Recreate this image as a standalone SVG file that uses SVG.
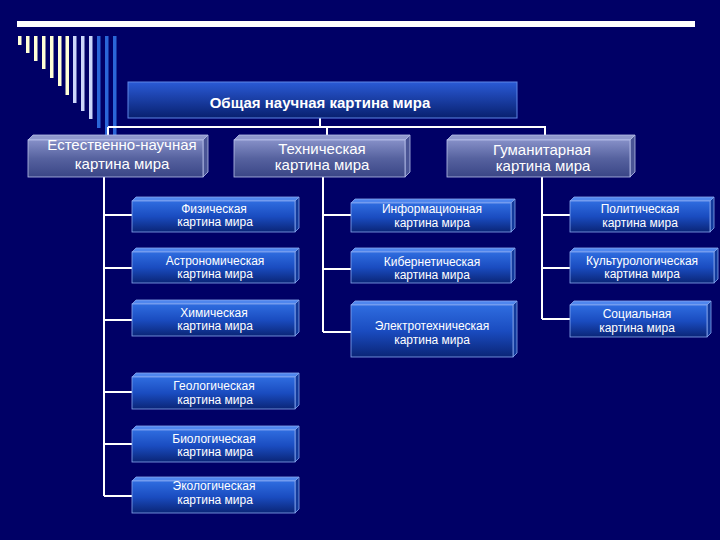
<svg xmlns="http://www.w3.org/2000/svg" width="720" height="540" viewBox="0 0 720 540">
<defs>
<linearGradient id="gLeaf" x1="0" y1="0" x2="0" y2="1">
<stop offset="0" stop-color="#2f6de0"/>
<stop offset="0.5" stop-color="#1a4cc0"/>
<stop offset="1" stop-color="#0a2577"/>
</linearGradient>
<linearGradient id="gMid" x1="0" y1="0" x2="0" y2="1">
<stop offset="0" stop-color="#8690c8"/>
<stop offset="0.5" stop-color="#56629f"/>
<stop offset="1" stop-color="#3a4586"/>
</linearGradient>
<linearGradient id="gRoot" x1="0" y1="0" x2="0" y2="1">
<stop offset="0" stop-color="#2a5ad6"/>
<stop offset="1" stop-color="#08206f"/>
</linearGradient>
<style>
.bg{fill:#000066}
.stripeY{fill:#ffffd6}
.stripeL{fill:#ccd6fa}
.stripeB{fill:#2a66d8}
.front{fill:url(#gLeaf);stroke:#88a8f0;stroke-width:0.8}
.top{fill:#4f86ee;stroke:#88a8f0;stroke-width:0.8}
.side{fill:#123a9c;stroke:#88a8f0;stroke-width:0.8}
.mfront{fill:url(#gMid);stroke:#b8c0ea;stroke-width:0.8}
.mtop{fill:#8f98cc;stroke:#b8c0ea;stroke-width:0.8}
.mside{fill:#4a5596;stroke:#b8c0ea;stroke-width:0.8}
.rfront{fill:url(#gRoot);stroke:#5f86e6;stroke-width:1}
.conn{stroke:#ffffff;stroke-width:2;fill:none}
text{font-family:"Liberation Sans",Arial,sans-serif;fill:#ffffff;text-anchor:middle}
.t1{font-size:15px;font-weight:bold}
.t2{font-size:15px}
.t3{font-size:12px}
</style>
</defs>
<rect class="bg" x="0" y="0" width="720" height="540"/>
<g id="decor">
<rect x="17" y="21" width="678" height="6" fill="#ffffff"/>
<rect class="stripeY" x="18" y="36" width="3.5" height="9"/>
<rect class="stripeY" x="26" y="36" width="3.5" height="17"/>
<rect class="stripeY" x="34" y="36" width="3.5" height="25"/>
<rect class="stripeY" x="42" y="36" width="3.5" height="33"/>
<rect class="stripeY" x="50" y="36" width="3.5" height="42"/>
<rect class="stripeY" x="58" y="36" width="3.5" height="50"/>
<rect class="stripeY" x="65.5" y="36" width="3.5" height="59"/>
<rect class="stripeL" x="73" y="36" width="3.5" height="67"/>
<rect class="stripeL" x="81" y="36" width="3.5" height="75"/>
<rect class="stripeL" x="89" y="36" width="3.5" height="83"/>
<rect class="stripeB" x="97" y="36" width="3.5" height="92"/>
<rect class="stripeB" x="105" y="36" width="3.5" height="101"/>
<rect class="stripeB" x="113" y="36" width="3.5" height="107"/>
</g>
<g id="connectors">
<path class="conn" d="M320 118 V127 M108 127 H546 M108 127 V137 M327 127 V136 M545 127 V136"/>
<path class="conn" d="M104 177 V496 M104 215 H132 M104 268 H132 M104 320 H132 M104 392 H132 M104 444 H132 M104 496 H132"/>
<path class="conn" d="M323 177 V332 M323 215 H351 M323 269 H351 M323 332 H351"/>
<path class="conn" d="M542 177 V319 M542 215 H570 M542 268 H570 M542 319 H570"/>
</g>
<g id="root">
<rect class="rfront" x="128" y="82" width="389" height="36"/>
<text class="t1" x="320" y="108">Общая научная картина мира</text>
</g>
<g id="natural">
<polygon class="mtop" points="28,140 33,135 208,135 203,140"/>
<polygon class="mside" points="203,140 208,135 208,172 203,177"/>
<rect class="mfront" x="28" y="140" width="175" height="37"/>
<text class="t2" x="122" y="150">Естественно-научная</text>
<text class="t2" x="122" y="169">картина мира</text>
</g>
<g id="technical">
<polygon class="mtop" points="234,140 239,135 410,135 405,140"/>
<polygon class="mside" points="405,140 410,135 410,172 405,177"/>
<rect class="mfront" x="234" y="140" width="171" height="37"/>
<text class="t2" x="322" y="154">Техническая</text>
<text class="t2" x="322" y="170">картина мира</text>
</g>
<g id="humanitarian">
<polygon class="mtop" points="447,140 452,135 635,135 630,140"/>
<polygon class="mside" points="630,140 635,135 635,172 630,177"/>
<rect class="mfront" x="447" y="140" width="183" height="37"/>
<text class="t2" x="542" y="155">Гуманитарная</text>
<text class="t2" x="543" y="171">картина мира</text>
</g>
<g id="physical">
<polygon class="top" points="132,201 136,197 299,197 295,201"/>
<polygon class="side" points="295,201 299,197 299,228 295,232"/>
<rect class="front" x="132" y="201" width="163" height="31"/>
<text class="t3" x="214" y="213">Физическая</text>
<text class="t3" x="215" y="226">картина мира</text>
</g>
<g id="astronomical">
<polygon class="top" points="132,252 136,248 299,248 295,252"/>
<polygon class="side" points="295,252 299,248 299,279 295,283"/>
<rect class="front" x="132" y="252" width="163" height="31"/>
<text class="t3" x="215" y="265">Астрономическая</text>
<text class="t3" x="215" y="278">картина мира</text>
</g>
<g id="chemical">
<polygon class="top" points="132,304 136,300 299,300 295,304"/>
<polygon class="side" points="295,304 299,300 299,332 295,336"/>
<rect class="front" x="132" y="304" width="163" height="32"/>
<text class="t3" x="214" y="317">Химическая</text>
<text class="t3" x="215" y="330">картина мира</text>
</g>
<g id="geological">
<polygon class="top" points="132,377 136,373 299,373 295,377"/>
<polygon class="side" points="295,377 299,373 299,405 295,409"/>
<rect class="front" x="132" y="377" width="163" height="32"/>
<text class="t3" x="214" y="390">Геологическая</text>
<text class="t3" x="215" y="404">картина мира</text>
</g>
<g id="biological">
<polygon class="top" points="132,430 136,426 299,426 295,430"/>
<polygon class="side" points="295,430 299,426 299,458 295,462"/>
<rect class="front" x="132" y="430" width="163" height="32"/>
<text class="t3" x="214" y="443">Биологическая</text>
<text class="t3" x="215" y="456">картина мира</text>
</g>
<g id="ecological">
<polygon class="top" points="132,481 136,477 299,477 295,481"/>
<polygon class="side" points="295,481 299,477 299,509 295,513"/>
<rect class="front" x="132" y="481" width="163" height="32"/>
<text class="t3" x="214" y="490">Экологическая</text>
<text class="t3" x="215" y="504">картина мира</text>
</g>
<g id="information">
<polygon class="top" points="351,203 355,199 515,199 511,203"/>
<polygon class="side" points="511,203 515,199 515,228 511,232"/>
<rect class="front" x="351" y="203" width="160" height="29"/>
<text class="t3" x="432" y="213">Информационная</text>
<text class="t3" x="432" y="227">картина мира</text>
</g>
<g id="cybernetic">
<polygon class="top" points="351,252 355,248 515,248 511,252"/>
<polygon class="side" points="511,252 515,248 515,279 511,283"/>
<rect class="front" x="351" y="252" width="160" height="31"/>
<text class="t3" x="432" y="266">Кибернетическая</text>
<text class="t3" x="432" y="279">картина мира</text>
</g>
<g id="electrotechnical">
<polygon class="top" points="351,305 355,301 517,301 513,305"/>
<polygon class="side" points="513,305 517,301 517,353 513,357"/>
<rect class="front" x="351" y="305" width="162" height="52"/>
<text class="t3" x="432" y="330">Электротехническая</text>
<text class="t3" x="432" y="344">картина мира</text>
</g>
<g id="political">
<polygon class="top" points="570,201 574,197 714,197 710,201"/>
<polygon class="side" points="710,201 714,197 714,228 710,232"/>
<rect class="front" x="570" y="201" width="140" height="31"/>
<text class="t3" x="640" y="213">Политическая</text>
<text class="t3" x="640" y="227">картина мира</text>
</g>
<g id="cultural">
<polygon class="top" points="570,252 574,248 718,248 714,252"/>
<polygon class="side" points="714,252 718,248 718,279 714,283"/>
<rect class="front" x="570" y="252" width="144" height="31"/>
<text class="t3" x="642" y="265">Культурологическая</text>
<text class="t3" x="642" y="278">картина мира</text>
</g>
<g id="social">
<polygon class="top" points="570,305 574,301 711,301 707,305"/>
<polygon class="side" points="707,305 711,301 711,333 707,337"/>
<rect class="front" x="570" y="305" width="137" height="32"/>
<text class="t3" x="637" y="318">Социальная</text>
<text class="t3" x="637" y="332">картина мира</text>
</g>
</svg>
